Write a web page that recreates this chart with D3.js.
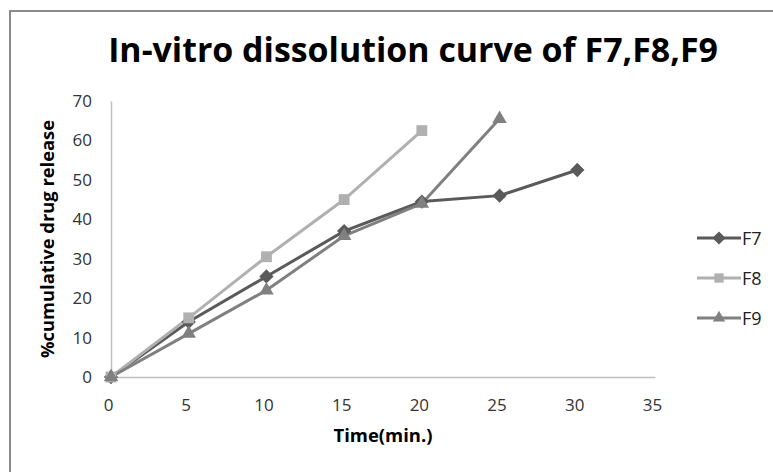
<!doctype html>
<html lang="en">
<head>
<meta charset="utf-8">
<style>
	body{margin:0;background:#fff;}
	text{font-family:"Open Sans","Liberation Sans",sans-serif;}
</style>
</head>
<body>
<div id="grafico"></div>
<script src="https://d3js.org/d3.v7.min.js"></script>
<script>

// datos
var tiempo = [0, 5, 10, 15, 20, 25, 30];
var f7 = [0, 14, 25.5, 37, 44.5, 46, 52.5];
var f8 = [0, 15, 30.5, 45, 62.5];
var f9 = [0, 11, 22, 35.8, 44, 65.5];
var series = ["F7", "F8", "F9"];
var xTicks = [0, 5, 10, 15, 20, 25, 30, 35];
var yTicks = [0, 10, 20, 30, 40, 50, 60, 70];

var colores = {F7:"#5a5a5a", F8:"#b0b0b0", F9:"#808080"};
var simbolos = {F7:d3.symbolDiamond2, F8:d3.symbolSquare2, F9:d3.symbolTriangle2};
var valores = {F7:f7, F8:f8, F9:f9};

var w = 773, h = 472;
var svg = d3.select("#grafico").append("svg").attr("width", w).attr("height", h);

// marco
svg.append("rect").attr("x",10).attr("y",11).attr("width",w+20).attr("height",h+20)
	.attr("fill","none").attr("stroke","#8a8a8a").attr("stroke-width",2);

var x = d3.scaleLinear().domain([0,35]).range([111,655]);
var y = d3.scaleLinear().domain([0,70]).range([377,101]);

// ajusta el tamaño de un texto a un ancho dado
function ajustar(t, base, ancho){
	var l = t.node().getComputedTextLength();
	t.style("font-size", (base*ancho/l) + "px");
}

// ejes
var ax = svg.append("g").attr("transform","translate(0,377)")
	.call(d3.axisBottom(x).tickValues(xTicks).tickSize(0).tickPadding(22));
ax.select(".domain").attr("stroke","#bfbfbf").attr("stroke-width",1.5);
ax.selectAll("text").style("font-size","17px").attr("fill","#333").attr("dx","-3");

var ay = svg.append("g").attr("transform","translate(111,0)")
	.call(d3.axisLeft(y).tickValues(yTicks).tickSize(0).tickPadding(19));
ay.select(".domain").attr("stroke","#bfbfbf").attr("stroke-width",1.5);
ay.selectAll("text").style("font-size","17px").attr("fill","#333");

// lineas
var linea = d3.line().x(function(d,i){return x(tiempo[i])}).y(function(d){return y(d)});
series.forEach(function(s){
	svg.append("path").datum(valores[s]).attr("d",linea)
		.attr("fill","none").attr("stroke",colores[s]).attr("stroke-width",3);
});
series.forEach(function(s){
	svg.selectAll(".m"+s).data(valores[s]).enter().append("path")
		.attr("d", d3.symbol().type(simbolos[s]).size(s=="F7"?130:150))
		.attr("transform",function(d,i){return "translate(" + x(tiempo[i]) + "," + y(d) + ")"})
		.attr("fill",colores[s]);
});

// titulo
var titulo = svg.append("text").attr("x",413).attr("y",62).attr("text-anchor","middle")
	.style("font-size","28px").style("font-weight","bold").attr("fill","#000")
	.text("In-vitro dissolution curve of F7,F8,F9");
ajustar(titulo, 28, 610);

// titulos de ejes
var tx = svg.append("text").attr("x",383).attr("y",442).attr("text-anchor","middle")
	.style("font-size","14px").style("font-weight","bold").attr("fill","#000").text("Time(min.)");
ajustar(tx, 14, 99);
var ty = svg.append("text").attr("transform","translate(54,239) rotate(-90)").attr("text-anchor","middle")
	.style("font-size","14px").style("font-weight","bold").attr("fill","#000").text("%cumulative drug release");
ajustar(ty, 14, 238);

// leyenda
var ley = svg.selectAll(".ley").data(series).enter().append("g")
	.attr("transform",function(d,i){return "translate(697," + (238 + 40*i) + ")"});
ley.append("line").attr("x1",0).attr("x2",44).attr("stroke",function(d){return colores[d]}).attr("stroke-width",3);
ley.append("path").attr("d",function(d){return d3.symbol().type(simbolos[d]).size(110)()})
	.attr("transform","translate(22,0)").attr("fill",function(d){return colores[d]});
ley.append("text").attr("x",45).attr("y",7).style("font-size","18px").attr("fill","#222").text(function(d){return d});

</script>
</body>
</html>
